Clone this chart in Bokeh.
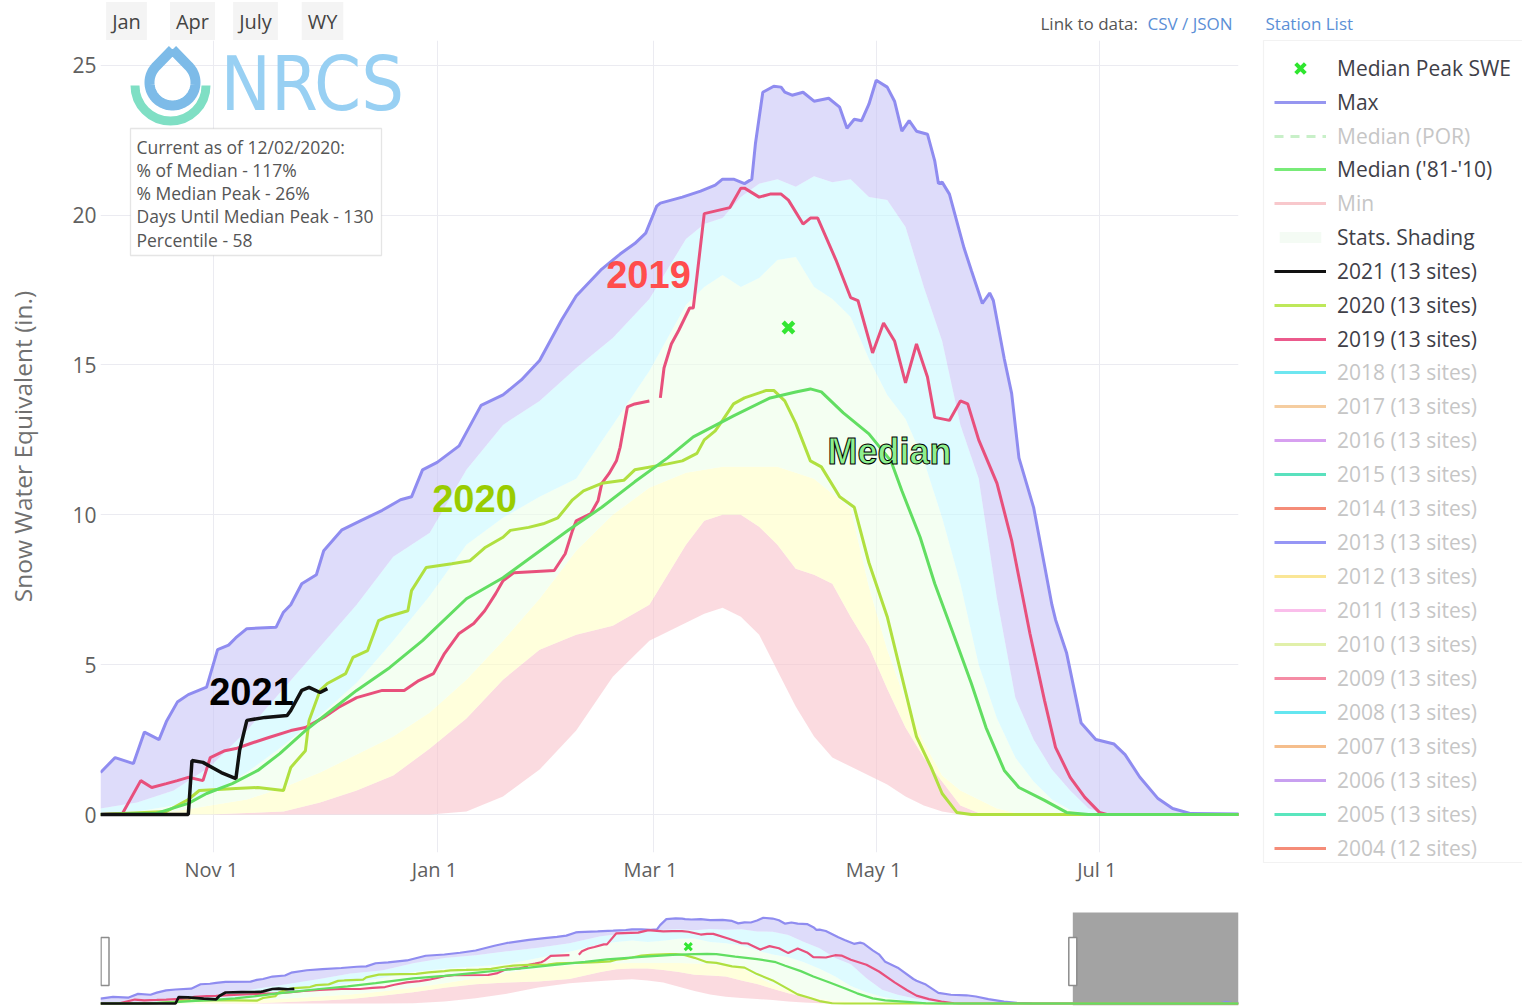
import numpy as np
import pandas as pd
from bokeh.plotting import figure
from bokeh.layouts import row, column
from bokeh.models import (Range1d, FixedTicker, DatetimeTickFormatter, Label,
                          BoxAnnotation, Legend, LegendItem)
from bokeh.embed import file_html
from bokeh.resources import INLINE

# ------------------------------------------------------------------ data
WY_START = pd.Timestamp("2020-10-01")     # water year 2021 starts Oct 1, 2020
VIEW_DAYS = 311                            # main chart window: Oct 1 .. Aug 8
NAV_DAYS = 364                             # navigator: whole water year

# percentile statistics (day offset from Oct 1, SWE in inches)
stat_days = [0, 10, 20, 30, 40, 50, 60, 70, 80, 90, 100, 110, 120, 130, 140, 150, 160, 165,
             170, 175, 180, 185, 190, 195, 200, 205, 210, 215, 220, 225, 230, 235, 240, 245,
             250, 255, 260, 265, 270, 275, 280, 290, 364]
stat_min = [0, 0, 0, 0, 0, 0, 0, 0, 0, 0, 0.1, 0.6, 1.5, 2.8, 4.6, 5.8, 6.4, 6.7, 6.9, 6.6,
            6.0, 4.8, 3.6, 2.6, 1.9, 1.6, 1.3, 1.0, 0.6, 0.3, 0.1, 0, 0, 0, 0, 0, 0, 0, 0, 0,
            0, 0, 0]
stat_p10 = [0, 0, 0, 0, 0.05, 0.1, 0.4, 0.8, 1.3, 2.2, 3.2, 4.5, 5.5, 6.0, 6.3, 7.0, 9.0, 9.8,
            10.0, 10.0, 9.6, 9.0, 8.2, 8.0, 7.7, 6.6, 5.6, 4.2, 2.9, 1.9, 1.1, 0.3, 0.05, 0,
            0, 0, 0, 0, 0, 0, 0, 0, 0]
stat_p30 = [0, 0, 0.1, 0.3, 0.5, 0.9, 1.4, 2.0, 2.6, 3.4, 4.5, 5.8, 7.2, 8.8, 10.0, 10.9,
            11.4, 11.5, 11.6, 11.6, 11.6, 11.6, 11.4, 11.2, 10.7, 10.2, 7.6, 5.5, 3.8, 2.4,
            1.3, 0.8, 0.5, 0.2, 0.05, 0, 0, 0, 0, 0, 0, 0, 0]
stat_p70 = [0.05, 0.1, 0.3, 0.7, 1.4, 2.3, 3.3, 4.4, 5.8, 7.3, 9.0, 9.9, 10.6, 11.2, 13.0,
            14.8, 17.0, 17.6, 18.0, 17.6, 17.9, 18.5, 18.6, 17.6, 17.2, 16.6, 15.2, 14.0,
            13.2, 11.8, 9.9, 7.7, 5.0, 3.2, 1.9, 1.1, 0.5, 0.15, 0, 0, 0, 0, 0]
stat_p90 = [0.2, 0.4, 0.8, 1.6, 2.8, 4.2, 5.6, 7.0, 8.6, 9.4, 11.5, 13.0, 13.8, 14.9, 15.9,
            17.2, 19.2, 19.7, 19.9, 20.6, 21.05, 21.2, 20.95, 21.3, 21.1, 21.2, 20.6, 20.5,
            19.6, 17.6, 15.8, 13.0, 11.2, 7.2, 3.9, 2.5, 1.5, 0.8, 0.2, 0.02, 0, 0, 0]

max_days = [0, 4, 9, 12, 16, 18, 21, 24, 29, 32, 35, 37, 40, 48, 50, 52, 55, 59, 61, 66,
            71, 77, 82, 85, 88, 92, 98, 104, 110, 115, 120, 126, 130, 137, 142, 146, 149, 152,
            153, 159, 164, 168, 170, 173, 176, 178, 179, 181, 184, 186, 187, 189, 192, 195,
            199, 202, 204, 206, 208, 210, 212, 215, 217, 219, 221, 223, 226, 228, 229, 230,
            232, 236, 238, 241, 243, 244, 247, 249, 251, 255, 260, 261, 264, 268, 272, 277,
            280, 284, 289, 293, 298, 330, 358, 360, 362, 364]
max_swe = [1.4, 1.9, 1.7, 2.75, 2.5, 3.1, 3.75, 4.0, 4.25, 5.5, 5.65, 5.9, 6.2, 6.25, 6.75,
           7.0, 7.7, 8.0, 8.8, 9.5, 9.8, 10.15, 10.5, 10.6, 11.5, 11.75, 12.3, 13.65, 14.0,
           14.5, 15.15, 16.5, 17.3, 18.2, 18.7, 19.05, 19.4, 20.3, 20.4, 20.6, 20.8, 21.0,
           21.2, 21.2, 21.05, 21.2, 22.4, 24.1, 24.3, 24.27, 24.1, 24.0, 24.1, 23.8, 23.9,
           23.6, 22.9, 23.2, 23.15, 23.7, 24.5, 24.27, 23.8, 22.8, 23.15, 22.8, 22.7, 21.8,
           21.05, 21.1, 20.7, 18.9, 18.15, 17.05, 17.4, 17.15, 15.2, 14.05, 11.9, 10.25, 7.0,
           6.5, 5.4, 3.05, 2.5, 2.35, 2.0, 1.25, 0.53, 0.2, 0.03, 0.0, 0.0, 0.5, 0.1, 0.2]

median_days = [0, 15, 24, 29, 36, 43, 49, 56, 63, 70, 79, 88, 100, 110, 119, 128, 137, 146,
               155, 162, 173, 183, 190, 194, 197, 203, 210, 216, 219, 224, 228, 233, 238, 242,
               247, 251, 258, 264, 270, 364]
median_swe = [0, 0.03, 0.37, 0.7, 1.03, 1.47, 2.03, 2.8, 3.47, 4.14, 4.9, 5.8, 7.2, 7.9, 8.7,
              9.5, 10.25, 11.1, 11.9, 12.6, 13.3, 13.9, 14.1, 14.2, 14.1, 13.4, 12.7, 11.8,
              10.8, 9.25, 7.7, 6.05, 4.37, 2.9, 1.47, 0.9, 0.47, 0.07, 0.0, 0.0]

wy2020_days = [0, 18, 24, 27, 37, 43, 50, 52, 56, 57, 60, 62, 67, 69, 73, 76, 78, 84, 85, 89,
               96, 101, 105, 110, 112, 117, 121, 125, 129, 132, 137, 143, 146, 155, 159, 163,
               165, 168, 170, 173, 176, 182, 184, 187, 190, 194, 197, 202, 206, 210, 215, 219,
               223, 227, 230, 234, 238, 364]
wy2020_swe = [0, 0.1, 0.5, 0.8, 0.87, 0.9, 0.8, 1.57, 2.13, 3.14, 4.14, 4.37, 4.7, 5.24, 5.47,
              6.47, 6.58, 6.8, 7.47, 8.24, 8.37, 8.47, 8.9, 9.25, 9.48, 9.58, 9.7, 9.9, 10.5,
              10.8, 11.05, 11.15, 11.5, 11.7, 11.8, 12.05, 12.5, 12.8, 13.15, 13.7, 13.9,
              14.15, 14.15, 13.8, 13.05, 11.8, 11.6, 10.6, 10.25, 8.4, 6.6, 4.6, 2.6, 1.57,
              0.7, 0.07, 0, 0]

wy2019_days = [0, 6, 11, 14, 18, 21, 24, 28, 30, 34, 37, 41, 46, 52, 56, 61, 65, 70, 77, 83,
               87, 91, 94, 98, 102, 105, 108, 110, 113, 124, 127, 129, 130, 134, 136, 137, 139,
               141, 142, 144, 146, 150, 151, 153, 154, 156, 158, 161, 162, 165, 172, 175, 176,
               180, 183, 186, 188, 192, 194, 196, 201, 205, 207, 211, 214, 217, 220, 223, 226,
               228, 232, 235, 237, 240, 245, 249, 254, 258, 261, 265, 269, 273, 275, 364]
wy2019_swe = [0, 0.03, 1.13, 0.9, 1.03, 1.13, 1.24, 1.13, 1.9, 2.13, 2.2, 2.37, 2.57, 2.8,
              2.9, 3.24, 3.57, 3.9, 4.14, 4.14, 4.47, 4.7, 5.37, 6.04, 6.37, 6.8, 7.37, 7.8,
              8.07, 8.14, 8.7, 9.48, 9.8, 10.04, 10.48, 11.05, 11.38, 11.8, 12.25, 13.6, 13.7,
              13.8, np.nan, 13.9, 14.9, 15.7, 16.15, 16.9, 16.9, 20.05, 20.25, 20.9, 20.9,
              20.6, 20.7, 20.7, 20.5, 19.7, 19.9, 19.9, 18.5, 17.25, 17.15, 15.4, 16.4, 15.8,
              14.4, 15.7, 14.6, 13.25, 13.15, 13.8, 13.7, 12.5, 11.05, 9.15, 6.04, 3.8, 2.24,
              1.24, 0.57, 0.07, 0, 0]

wy2021_days = [0, 24, 25, 28, 33, 37, 38, 40, 45, 51, 52, 55, 57, 60, 62]
wy2021_swe = [0, 0, 1.8, 1.74, 1.4, 1.2, 2.13, 3.14, 3.24, 3.3, 3.47, 4.14, 4.24, 4.07, 4.2]

peak_day = [188]
peak_swe = [16.25]

x_tick_dates = ["2020-11-01", "2021-01-01", "2021-03-01", "2021-05-01", "2021-07-01"]
y_ticks = [0, 5, 10, 15, 20, 25]

info_lines = ["Current as of 12/02/2020:", "% of Median - 117%", "% Median Peak - 26%",
              "Days Until Median Peak - 130", "Percentile - 58"]
range_buttons = ["Jan", "Apr", "July", "WY"]

legend_labels = ["Median Peak SWE", "Max", "Median (POR)", "Median ('81-'10)", "Min",
                 "Stats. Shading", "2021 (13 sites)", "2020 (13 sites)", "2019 (13 sites)",
                 "2018 (13 sites)", "2017 (13 sites)", "2016 (13 sites)", "2015 (13 sites)",
                 "2014 (13 sites)", "2013 (13 sites)", "2012 (13 sites)", "2011 (13 sites)",
                 "2010 (13 sites)", "2009 (13 sites)", "2008 (13 sites)", "2007 (13 sites)",
                 "2006 (13 sites)", "2005 (13 sites)", "2004 (12 sites)"]
legend_shown = [True, True, False, True, False, True, True, True, True] + [False] * 15

# ------------------------------------------------------------------ styles
legend_kinds = ["x", "line", "dash", "line", "line", "area"] + ["line"] * 18
legend_colors = ["#2ee62e", "#9696f0", "#c8f0c8", "#78eb78", "#f8c8cc", "#f4fbf4", "#111111",
                 "#bee85a", "#eb5a8c", "#6ee6f0", "#f5cda0", "#d7a0f0", "#5ae1be", "#f58c78",
                 "#9696f5", "#fae696", "#fabeeb", "#e1f0aa", "#f58ca5", "#64e6f0", "#f5be8c",
                 "#c8a0f0", "#5ae6be", "#f58c78"]

FONT = "Open Sans"
BIG = "Liberation Sans"
COND = "DejaVu Sans Condensed"
C_MAX, C_MED, C_2020, C_2019, C_2021 = "#8f8cf0", "#62de62", "#b0e040", "#e8507c", "#111111"
BAND_COLORS = ["#f9c3cb", "#ffffc4", "#edffe9", "#c8f8ff"]
TOP_BAND = "#c8c5f7"
BAND_ALPHA = 0.6

W_TOTAL, H_TOTAL = 1522, 1007
MAIN_W = 1255
HDR_H = 40                              # header strip (range buttons, data links)
MAIN_H = 863                            # main chart figure: page y 40 .. 903
FL, FR, FT, FB = 100, 1238, 40, 852     # main frame edges (page pixels)
ZERO_Y = 814                            # page y of SWE = 0
PX_IN = 29.97
Y_LO = -(FB - ZERO_Y) / PX_IN
Y_HI = Y_LO + (FB - FT) / PX_IN
PX_DAY = (FR - FL) / VIEW_DAYS


def dates(days):
    return (WY_START + pd.to_timedelta(np.asarray(days, dtype=float), unit="D")).values


def ms(ts):
    return pd.Timestamp(ts).value / 1e6


def deco_xy(ix, iy):
    """page pixel -> main-chart data coordinate (for decorations only)"""
    return (WY_START + pd.Timedelta(days=(ix - FL) / PX_DAY), (ZERO_Y - iy) / PX_IN)


def draw_series(fig, lw):
    sd = dates(stat_days)
    bounds = [stat_min, stat_p10, stat_p30, stat_p70, stat_p90]
    for i, c in enumerate(BAND_COLORS):
        fig.varea(x=sd, y1=bounds[i], y2=bounds[i + 1], fill_color=c, fill_alpha=BAND_ALPHA)
    fig.patch(x=np.concatenate([dates(max_days), sd[::-1]]),
              y=np.concatenate([np.asarray(max_swe), np.asarray(stat_p90)[::-1]]),
              fill_color=TOP_BAND, fill_alpha=BAND_ALPHA, line_color=None)
    fig.line(dates(max_days), max_swe, line_color=C_MAX, line_width=lw)
    fig.line(dates(wy2019_days), wy2019_swe, line_color=C_2019, line_width=lw)
    fig.line(dates(wy2020_days), wy2020_swe, line_color=C_2020, line_width=lw)
    fig.line(dates(median_days), median_swe, line_color=C_MED, line_width=lw)
    fig.line(dates(wy2021_days), wy2021_swe, line_color=C_2021, line_width=lw + 0.5)


def bare_fig(**kw):
    f = figure(output_backend="svg", toolbar_location=None, x_axis_location=None,
               y_axis_location=None, **kw)
    f.outline_line_color = None
    f.grid.visible = False
    return f


# ------------------------------------------------------------------ header strip
hdr = bare_fig(width=MAIN_W, height=HDR_H, x_range=Range1d(0, 1), y_range=Range1d(0, 1),
               min_border_left=FL, min_border_right=MAIN_W - FR, min_border_top=0,
               min_border_bottom=0)


def hlabel(ix, iy, text, **kw):
    kw.setdefault("text_font", FONT)
    kw.setdefault("text_baseline", "middle")
    hdr.add_layout(Label(x=ix - FL, y=HDR_H - iy, x_units="screen", y_units="screen",
                         text=text, **kw))


for t, xc in zip(range_buttons, [126, 192, 255, 322]):
    hlabel(xc, 21, t, text_font_size="20px", text_color="#444444", text_align="center",
           background_fill_color="#f4f4f4", padding=6)
hlabel(1040, 23, "Link to data:", text_font_size="17px", text_color="#555555")
hlabel(1147, 23, "CSV / JSON", text_font_size="17px", text_color="#5b8fd6")

# ------------------------------------------------------------------ main chart
p = figure(width=MAIN_W, height=MAIN_H, x_axis_type="datetime",
           x_range=Range1d(WY_START, WY_START + pd.Timedelta(days=VIEW_DAYS)),
           y_range=Range1d(Y_LO, Y_HI),
           output_backend="svg", toolbar_location=None,
           min_border_left=FL, min_border_right=MAIN_W - FR, min_border_top=0,
           min_border_bottom=HDR_H + MAIN_H - FB)
p.outline_line_color = None
p.border_fill_color = "white"

draw_series(p, 3)
p.scatter(dates(peak_day), peak_swe, marker="x", size=15, line_color="#33e633", line_width=4.5)

tick_ms = [ms(d) for d in x_tick_dates]
p.xaxis.ticker = FixedTicker(ticks=tick_ms)
fmt = "%b %e"
p.xaxis.formatter = DatetimeTickFormatter(
    microseconds=fmt, milliseconds=fmt, seconds=fmt, minsec=fmt, minutes=fmt, hourmin=fmt,
    hours=fmt, days=fmt, months=fmt, years=fmt, context=None)
p.yaxis.ticker = FixedTicker(ticks=y_ticks)
p.xgrid.ticker = FixedTicker(ticks=tick_ms)
p.ygrid.ticker = FixedTicker(ticks=y_ticks)
p.grid.grid_line_color = "#ebebf1"

p.axis.axis_line_color = None
p.axis.major_tick_line_color = None
p.axis.minor_tick_line_color = None
p.axis.major_tick_out = 0
p.axis.major_tick_in = 0
p.axis.major_label_text_font = FONT
p.axis.major_label_text_color = "#606060"
p.yaxis.major_label_text_font_size = "21px"
p.xaxis.major_label_text_font_size = "20px"
p.yaxis.major_label_standoff = 4
p.xaxis.major_label_standoff = 3
p.yaxis.axis_label = "Snow Water Equivalent (in.)"
p.yaxis.axis_label_text_font = FONT
p.yaxis.axis_label_text_font_size = "24.5px"
p.yaxis.axis_label_text_font_style = "normal"
p.yaxis.axis_label_text_color = "#707070"
p.yaxis.axis_label_standoff = 30


def label(ix, iy, text, **kw):
    """text placed at page pixel (ix, iy) inside the main frame"""
    kw.setdefault("text_font", FONT)
    kw.setdefault("text_baseline", "middle")
    p.add_layout(Label(x=ix - FL, y=FB - iy, x_units="screen", y_units="screen",
                       text=text, **kw))


# logo: drop + arc + NRCS
cx, cy = deco_xy(170, 85)
p.arc(x=[cx], y=[cy], radius=35.5, radius_units="screen", start_angle=np.pi,
      end_angle=2 * np.pi, line_color="#7fdfc4", line_width=9)
ang = np.radians(np.linspace(133.3, 406.7, 60))
dx = [172] + list(172 + 23 * np.cos(ang)) + [172]
dy = [49] + list(82 - 23 * np.sin(ang)) + [49]
drop = [deco_xy(a, b) for a, b in zip(dx, dy)]
p.line([d[0] for d in drop], [d[1] for d in drop], line_color="#7dbbe8", line_width=10,
       line_join="round")
label(220, 83, "NRCS", text_font=COND, text_font_size="75px", text_color="#98d0f3")

# info box
bl, bt = deco_xy(130, 128)
br, bb = deco_xy(381, 255)
p.add_layout(BoxAnnotation(left=ms(bl), right=ms(br), top=bt, bottom=bb, fill_color="white",
                           fill_alpha=1.0, line_color="#a8a8a8", line_width=1.3))
for i, t in enumerate(info_lines):
    label(136, 146 + 23.3 * i, t, text_font_size="17.5px", text_color="#555555")

# series annotations
label(648, 274, "2019", text_font=BIG, text_font_size="38px", text_font_style="bold",
      text_color="#ff4d4d", text_align="center")
label(474, 498, "2020", text_font=BIG, text_font_size="38px", text_font_style="bold",
      text_color="#99cc00", text_align="center")
label(251, 691, "2021", text_font=BIG, text_font_size="38px", text_font_style="bold",
      text_color="#000000", text_align="center")
label(889, 451, "Median", text_font=BIG, text_font_size="36px", text_font_style="bold",
      text_color="#8ef08e", text_outline_color="#000000", text_align="center")

# ------------------------------------------------------------------ navigator
# (frames in a column are aligned, so the navigator shares the main frame's left/right edges)
NAV_T, NAV_B = 905, 1005
NAV_H = H_TOTAL - HDR_H - MAIN_H
NAV_PX_DAY = (FR - FL) / NAV_DAYS
nav = figure(width=MAIN_W, height=NAV_H, x_axis_type="datetime",
             x_range=Range1d(WY_START, WY_START + pd.Timedelta(days=NAV_DAYS)),
             y_range=Range1d(-0.57, 28),
             output_backend="svg", toolbar_location=None,
             x_axis_location=None, y_axis_location=None,
             min_border_left=FL, min_border_right=MAIN_W - FR,
             min_border_top=NAV_T - HDR_H - MAIN_H, min_border_bottom=H_TOTAL - NAV_B)
nav.outline_line_color = None
nav.grid.visible = False
view_end = WY_START + pd.Timedelta(days=VIEW_DAYS)
nav.quad(left=[view_end], right=[WY_START + pd.Timedelta(days=NAV_DAYS)], bottom=[-0.57],
         top=[26], fill_color="#a3a3a3", line_color=None)
draw_series(nav, 2.2)
nav.scatter(dates(peak_day), peak_swe, marker="x", size=10, line_color="#33e633",
            line_width=3)
handle_x = [WY_START + pd.Timedelta(days=4.5 / NAV_PX_DAY), view_end]
nav.rect(x=handle_x, y=[12, 12], width=8, height=48, width_units="screen",
         height_units="screen", fill_color="white", line_color="#8c8c8c", line_width=1.5)

# ------------------------------------------------------------------ legend panel
LEG_X0 = MAIN_W
lf = bare_fig(width=W_TOTAL - MAIN_W, height=H_TOTAL,
              x_range=Range1d(LEG_X0, W_TOTAL), y_range=Range1d(0, H_TOTAL),
              min_border_left=0, min_border_right=0, min_border_top=0, min_border_bottom=0)


def ly(iy):
    return H_TOTAL - iy


lf.add_layout(BoxAnnotation(left=1263, right=W_TOTAL + 20, top=ly(40), bottom=ly(862),
                            fill_alpha=0, line_color="#d4d4d4", line_width=1.2))


def legend_renderer(kind, color):
    # hidden placeholder data (NaN) so that only the legend sample is drawn
    nan = [np.nan]
    if kind == "x":
        return lf.scatter(nan, nan, marker="x", line_color=color, line_width=4)
    if kind == "area":
        return lf.varea(x=nan, y1=nan, y2=nan, fill_color=color)
    if kind == "dash":
        return lf.line(nan, nan, line_color=color, line_width=3, line_dash="9 7")
    return lf.line(nan, nan, line_color=color, line_width=3)


renderers = [legend_renderer(k, c) for k, c in zip(legend_kinds, legend_colors)]

# consecutive runs of shown / hidden entries get their own legend (own text colour)
runs, start = [], 0
for i in range(1, len(legend_labels) + 1):
    if i == len(legend_labels) or legend_shown[i] != legend_shown[start]:
        runs.append((start, i))
        start = i
PITCH, FIRST = 33.75, 68
for a, b in runs:
    items = [LegendItem(label=legend_labels[i], renderers=[renderers[i]]) for i in range(a, b)]
    top = FIRST + PITCH * a - 17
    h = 34 * (b - a)
    has_marker = any(legend_kinds[i] == "x" for i in range(a, b))
    leg = Legend(items=items, location=(1274 - LEG_X0, H_TOTAL - (top + h)),
                 orientation="vertical", padding=0, margin=0, spacing=0, label_height=34,
                 glyph_height=34 if has_marker else 14, glyph_width=52, label_standoff=11,
                 border_line_color=None, background_fill_alpha=0,
                 label_text_font=FONT, label_text_font_size="21px",
                 label_text_color="#404048" if legend_shown[a] else "#c6c6c6")
    lf.add_layout(leg)

lf.add_layout(Label(x=1265, y=ly(23), text="Station List", text_font=FONT,
                    text_font_size="17px", text_color="#5b8fd6", text_baseline="middle"))

layout = row(column(hdr, p, nav), lf)
open("out.html", "w").write(file_html(layout, INLINE))
